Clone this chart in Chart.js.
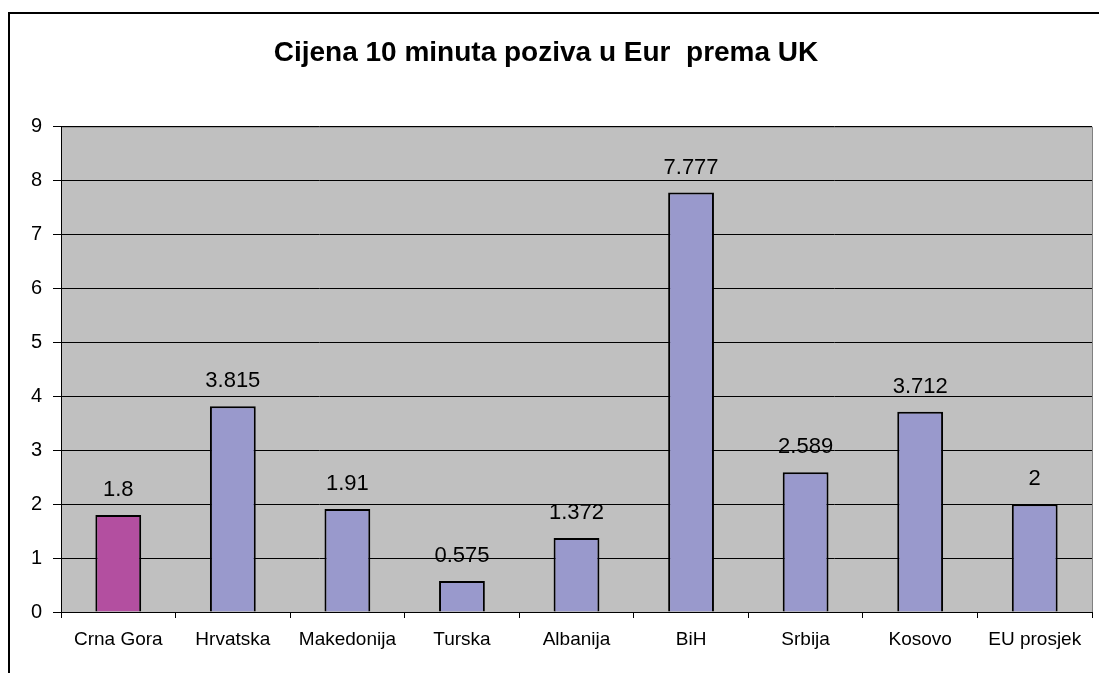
<!DOCTYPE html>
<html>
<head>
<meta charset="utf-8">
<script src="https://cdn.jsdelivr.net/npm/chart.js@4/dist/chart.umd.min.js"></script>
<style>
  body { margin: 0; background: #fff; }
  canvas { display: block; }
</style>
</head>
<body>
<canvas id="chart" width="1099" height="673"></canvas>
<script>
const categories = ['Crna Gora', 'Hrvatska', 'Makedonija', 'Turska', 'Albanija', 'BiH', 'Srbija', 'Kosovo', 'EU prosjek'];
const prices = [1.8, 3.815, 1.91, 0.575, 1.372, 7.777, 2.589, 3.712, 2];
const priceLabels = ['1.8', '3.815', '1.91', '0.575', '1.372', '7.777', '2.589', '3.712', '2'];
const barColors = ['#B34FA0', '#9999CC', '#9999CC', '#9999CC', '#9999CC', '#9999CC', '#9999CC', '#9999CC', '#9999CC'];

const FONT = "'Liberation Sans', Arial, sans-serif";

// grey plot area + outer frame
const frame = {
    id: 'frame',
    beforeDraw(chart) {
        const { ctx, chartArea: a } = chart;
        ctx.save();
        ctx.fillStyle = '#C0C0C0';
        ctx.fillRect(a.left, a.top, a.right - a.left, a.bottom - a.top);
        ctx.strokeStyle = '#808080';
        ctx.lineWidth = 1;
        ctx.beginPath();
        ctx.moveTo(a.left, a.top + 0.5);
        ctx.lineTo(a.right + 0.5, a.top + 0.5);
        ctx.lineTo(a.right + 0.5, a.bottom);
        ctx.stroke();
        ctx.strokeStyle = '#000';
        ctx.lineWidth = 2;
        ctx.beginPath();
        ctx.moveTo(9, chart.height);
        ctx.lineTo(9, 13);
        ctx.lineTo(chart.width, 13);
        ctx.stroke();
        ctx.restore();
    }
};

// value labels above bars
const valueLabels = {
    id: 'valueLabels',
    afterDatasetsDraw(chart) {
        const { ctx } = chart;
        const meta = chart.getDatasetMeta(0);
        ctx.save();
        ctx.font = '22px ' + FONT;
        ctx.fillStyle = '#000';
        ctx.textAlign = 'center';
        ctx.textBaseline = 'middle';
        meta.data.forEach((bar, i) => {
            ctx.fillText(priceLabels[i], bar.x, bar.y - 25);
        });
        ctx.restore();
    }
};

new Chart(document.getElementById('chart'), {
    type: 'bar',
    data: {
        labels: categories,
        datasets: [{
            data: prices,
            backgroundColor: barColors,
            borderColor: '#000',
            borderWidth: 2,
            barPercentage: 0.4,
            categoryPercentage: 1
        }]
    },
    options: {
        responsive: false,
        animation: false,
        layout: { padding: { left: 0, right: 7, top: 0, bottom: 0 } },
        plugins: {
            legend: { display: false },
            tooltip: { enabled: false },
            title: {
                display: true,
                text: 'Cijena 10 minuta poziva u Eur  prema UK',
                color: '#000',
                font: { family: FONT, size: 28, weight: 'bold' },
                padding: { top: 36, bottom: 57 }
            }
        },
        scales: {
            x: {
                grid: { offset: true, drawOnChartArea: false, tickLength: 6, color: '#000' },
                border: { color: '#000' },
                ticks: { color: '#000', font: { family: FONT, size: 19 }, padding: 10, maxRotation: 0 },
                afterFit: (scale) => { scale.height = 61; }
            },
            y: {
                min: 0,
                max: 9,
                ticks: { stepSize: 1, color: '#000', font: { family: FONT, size: 20 }, padding: 11 },
                grid: { color: '#000', tickLength: 8 },
                border: { color: '#000' },
                afterFit: (scale) => { scale.width = 61; }
            }
        }
    },
    plugins: [frame, valueLabels]
});
</script>
</body>
</html>
